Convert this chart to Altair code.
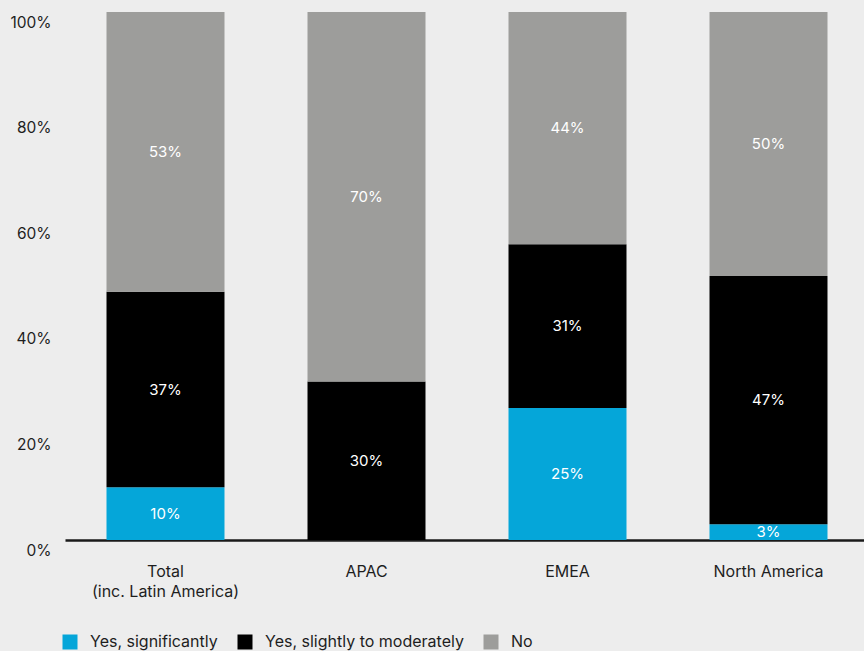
import altair as alt
import pandas as pd

regions = ["Total", "APAC", "EMEA", "North America"]
responses = ["Yes, significantly", "Yes, slightly to moderately", "No"]
significantly = [10, 0, 25, 3]
slightly = [37, 30, 31, 47]
no = [53, 70, 44, 50]
colors = ["#05a6d9", "#000000", "#9d9d9b"]
y_ticks = [0, 20, 40, 60, 80, 100]

rows = []
for i, r in enumerate(regions):
    for k, (resp, vals) in enumerate(zip(responses, [significantly, slightly, no])):
        rows.append({"region": r, "response": resp, "value": vals[i], "order": k})
df = pd.DataFrame(rows)

FONT = "Inter"
TXT = "#1e1e1e"

base = alt.Chart(df).transform_stack(
    stack="value", groupby=["region"], as_=["y0", "y1"],
    sort=[alt.SortField("order", order="ascending")]
).transform_calculate(mid="(datum.y0 + datum.y1) / 2")

xenc = alt.X("region:N", sort=regions, title=None,
             scale=alt.Scale(paddingInner=0.413, paddingOuter=0.2065, range=[0, 804]),
             axis=alt.Axis(labelAngle=0, ticks=False, domain=True, domainColor="#1a1a1a",
                           domainWidth=2.5, labelFontSize=16, labelColor=TXT,
                           labelFont=FONT, labelPadding=23, labelLineHeight=20,
                           labelExpr="datum.label == 'Total' ? ['Total', '(inc. Latin America)'] : datum.label"))

bars = base.mark_bar().encode(
    x=xenc,
    y=alt.Y("y0:Q", scale=alt.Scale(domain=[0, 100], nice=False), title=None,
            axis=alt.Axis(values=y_ticks, labelExpr="datum.value + '%'", grid=False,
                          ticks=False, domain=False, labelFontSize=15.5, labelColor=TXT,
                          labelFont=FONT, labelPadding=14, labelOffset=10, labelFlush=False)),
    y2="y1:Q",
    color=alt.Color("response:N", sort=responses,
                    scale=alt.Scale(domain=responses, range=colors),
                    legend=alt.Legend(title=None, orient="none", direction="horizontal",
                                      legendX=-3, legendY=622, symbolType="square",
                                      symbolSize=225, symbolStrokeWidth=0,
                                      labelFontSize=16, labelFont=FONT, labelColor=TXT,
                                      labelLimit=400, labelOffset=12, columnPadding=19,
                                      symbolOpacity=1)),
    order=alt.Order("order:Q"),
)

labels = base.transform_filter("datum.value > 0").transform_calculate(
    label="datum.value + '%'"
).mark_text(
    color="white", fontSize=15, font=FONT, baseline="middle", align="center"
).encode(
    x=alt.X("region:N", sort=regions),
    y=alt.Y("mid:Q"),
    text=alt.Text("label:N"),
)

chart = alt.layer(bars, labels).properties(
    width=799, height=528,
    autosize=alt.AutoSizeParams(type="none"),
    padding={"left": 65, "top": 12, "right": 0, "bottom": 111},
    background="#ededed",
).configure_view(stroke=None)

chart.save("out.html", embed_options={"renderer": "svg", "actions": False})
